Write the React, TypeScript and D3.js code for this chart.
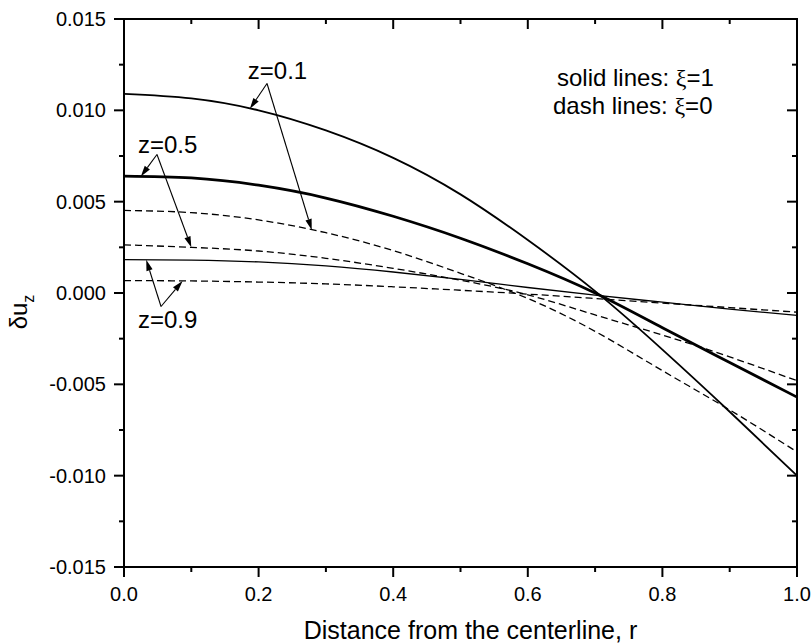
import React from 'react';
import * as d3 from 'd3';

// radial positions
const rValues = [0, 0.1, 0.2, 0.3, 0.4, 0.5, 0.6, 0.7, 0.8, 0.9, 1.0];
// solid lines: xi = 1
const solidZ01 = [0.0109, 0.01065, 0.0100, 0.0089, 0.0074, 0.0054, 0.0029, 0.0001, -0.0031, -0.0065, -0.0100];
const solidZ05 = [0.0064, 0.0063, 0.0059, 0.0052, 0.0042, 0.0030, 0.0016, 0.0000, -0.0019, -0.0038, -0.0057];
const solidZ09 = [0.00183, 0.0018, 0.0017, 0.00148, 0.00115, 0.00075, 0.0003, -0.00012, -0.0005, -0.00088, -0.00123];
// dash lines: xi = 0
const dashZ01 = [0.00452, 0.0044, 0.0040, 0.0033, 0.00232, 0.00108, -0.0003, -0.0021, -0.00425, -0.0064, -0.0087];
const dashZ05 = [0.00264, 0.0025, 0.0023, 0.0019, 0.00135, 0.0007, -0.0001, -0.0012, -0.0023, -0.0035, -0.0048];
const dashZ09 = [0.00068, 0.00066, 0.0006, 0.0005, 0.00034, 0.00015, -0.00006, -0.0003, -0.00055, -0.0008, -0.00105];

const xTicks = [0, 0.2, 0.4, 0.6, 0.8, 1.0];
const yTicks = [-0.015, -0.01, -0.005, 0, 0.005, 0.01, 0.015];
const zLabels = ['z=0.1', 'z=0.5', 'z=0.9'];

const W = 811, H = 643;
const L = 124, R = 797, T = 19, B = 567;
const FONT = "'Liberation Sans', Arial, sans-serif";

const series = [
  { values: solidZ01, width: 1.8, dash: null },
  { values: solidZ05, width: 2.8, dash: null },
  { values: solidZ09, width: 1.3, dash: null },
  { values: dashZ01, width: 1.3, dash: '7,4' },
  { values: dashZ05, width: 1.3, dash: '7,4' },
  { values: dashZ09, width: 1.3, dash: '7,4' },
];

// annotation: label anchor (data coords), arrow origin (data coords), tips on series at given r
const annotations = [
  { text: zLabels[0], lx: 0.184, ly: 0.01174, ox: 0.2125, oy: 0.01147, tips: [{ s: solidZ01, r: 0.187 }, { s: dashZ01, r: 0.279 }] },
  { text: zLabels[1], lx: 0.0208, ly: 0.00769, ox: 0.049, oy: 0.00758, tips: [{ s: solidZ05, r: 0.025 }, { s: dashZ05, r: 0.10 }] },
  { text: zLabels[2], lx: 0.0208, ly: -0.00194, ox: 0.055, oy: -0.00074, tips: [{ s: solidZ09, r: 0.033 }, { s: dashZ09, r: 0.087 }] },
];

function interp(vals: number[], r: number) {
  const f = d3.scaleLinear().domain(rValues).range(vals);
  return f(r);
}

export default function App() {
  const x = d3.scaleLinear().domain([0, 1]).range([L, R]);
  const y = d3.scaleLinear().domain([-0.015, 0.015]).range([B, T]);
  const line = d3.line<number>()
    .x((_, i) => x(rValues[i]))
    .y((d) => y(d))
    .curve(d3.curveNatural);

  const xMinor = d3.range(0, 1.0001, 0.1);
  const yMinor = d3.range(-0.015, 0.01501, 0.0025);

  const arrow = (ox: number, oy: number, tx: number, ty: number, key: string) => {
    const dx = tx - ox, dy = ty - oy;
    const len = Math.hypot(dx, dy);
    const ux = dx / len, uy = dy / len;
    const hl = 11, hw = 3.2;
    const bx = tx - ux * hl, by = ty - uy * hl;
    const nx = -uy, ny = ux;
    const pts = `${tx},${ty} ${bx + nx * hw},${by + ny * hw} ${bx - nx * hw},${by - ny * hw}`;
    return (
      <g key={key}>
        <line x1={ox} y1={oy} x2={bx} y2={by} stroke="#000" strokeWidth={1.1} />
        <polygon points={pts} fill="#000" />
      </g>
    );
  };

  return (
    <svg width={W} height={H} style={{ position: 'absolute', left: 0, top: 0, background: '#fff' }}
      fontFamily={FONT}>
      <rect x={0} y={0} width={W} height={H} fill="#fff" />
      {/* curves */}
      <g fill="none" stroke="#000">
        {series.map((s, i) => (
          <path key={i} d={line(s.values) || ''} strokeWidth={s.width}
            strokeDasharray={s.dash || undefined} />
        ))}
      </g>
      {/* frame */}
      <rect x={L} y={T} width={R - L} height={B - T} fill="none" stroke="#000" strokeWidth={2} />
      {/* ticks */}
      <g stroke="#000" strokeWidth={2}>
        {xMinor.map((v, i) => {
          const major = i % 2 === 0;
          const len = major ? 10 : 5;
          return (
            <g key={'xt' + i}>
              <line x1={x(v)} x2={x(v)} y1={B} y2={B + len} />
              <line x1={x(v)} x2={x(v)} y1={T} y2={T + len} />
            </g>
          );
        })}
        {yMinor.map((v, i) => {
          const major = i % 2 === 0;
          const len = major ? 10 : 5;
          return (
            <g key={'yt' + i}>
              <line x1={L - len} x2={L} y1={y(v)} y2={y(v)} />
              <line x1={R - len} x2={R} y1={y(v)} y2={y(v)} />
            </g>
          );
        })}
      </g>
      {/* tick labels */}
      <g fontSize={20} fill="#000">
        {xTicks.map((v) => (
          <text key={'xl' + v} x={x(v)} y={B + 34} textAnchor="middle">{v.toFixed(1)}</text>
        ))}
        {yTicks.map((v) => (
          <text key={'yl' + v} x={L - 18} y={y(v) + 7} textAnchor="end">{v.toFixed(3)}</text>
        ))}
      </g>
      {/* axis titles */}
      <text x={(L + R) / 2 + 10} y={B + 72} fontSize={25} textAnchor="middle">Distance from the centerline, r</text>
      <text transform={`translate(27, 312) rotate(-90)`} fontSize={24} textAnchor="middle">
        δu<tspan fontSize={16} dy={7}>z</tspan>
      </text>
      {/* legend text */}
      <text x={557} y={86} fontSize={24}>solid lines: <tspan fontFamily="'Liberation Serif', serif">ξ</tspan>=1</text>
      <text x={553} y={114} fontSize={24}>dash lines: <tspan fontFamily="'Liberation Serif', serif">ξ</tspan>=0</text>
      {/* annotations */}
      {annotations.map((a, i) => (
        <g key={'an' + i}>
          <text x={x(a.lx)} y={y(a.ly)} fontSize={24}>{a.text}</text>
          {a.tips.map((t, j) => arrow(x(a.ox), y(a.oy), x(t.r), y(interp(t.s, t.r)), `a${i}${j}`))}
        </g>
      ))}
    </svg>
  );
}
